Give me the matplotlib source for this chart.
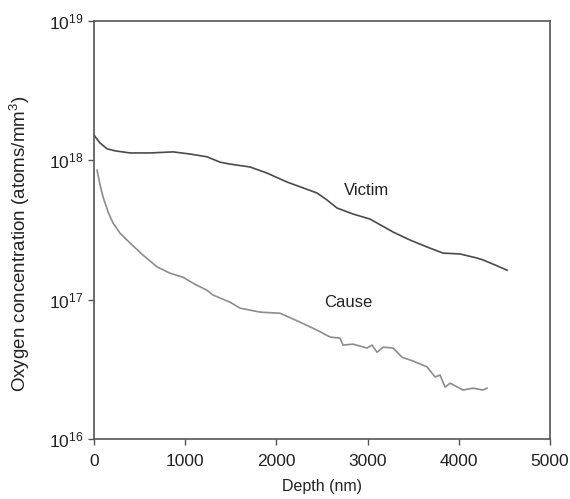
import numpy as np
import matplotlib
matplotlib.use("Agg")
from matplotlib import pyplot as plt
from matplotlib.ticker import LogLocator, NullLocator

plt.rcParams["font.family"] = ["Liberation Sans", "DejaVu Sans"]
plt.rcParams["mathtext.fontset"] = "custom"
plt.rcParams["mathtext.rm"] = "Liberation Sans"
plt.rcParams["mathtext.it"] = "Liberation Sans"
plt.rcParams["mathtext.default"] = "regular"

# depth profiles (nm, atoms/mm^3)
victim_depth = [0, 22, 66, 143, 230, 395, 614, 866, 1053, 1239, 1382, 1491,
                1711, 1897, 2116, 2445, 2555, 2664, 2840, 3026, 3279, 3465,
                3651, 3827, 4013, 4200, 4265, 4375, 4529]
victim_conc = [1.52e18, 1.45e18, 1.33e18, 1.21e18, 1.17e18, 1.13e18, 1.13e18,
               1.15e18, 1.11e18, 1.06e18, 9.7e17, 9.4e17, 8.96e17, 8.1e17,
               6.99e17, 5.83e17, 5.19e17, 4.55e17, 4.12e17, 3.79e17, 3.06e17,
               2.68e17, 2.39e17, 2.16e17, 2.13e17, 1.99e17, 1.93e17, 1.80e17,
               1.63e17]

cause_depth = [33, 66, 99, 154, 208, 285, 395, 537, 691, 833, 976, 1107, 1239,
               1305, 1491, 1601, 1820, 2039, 2259, 2445, 2588, 2697, 2730,
               2840, 2993, 3048, 3103, 3169, 3279, 3377, 3498, 3651, 3739,
               3794, 3849, 3904, 4046, 4156, 4265, 4309]
cause_conc = [8.5e17, 6.65e17, 5.46e17, 4.26e17, 3.55e17, 3.0e17, 2.55e17,
              2.09e17, 1.72e17, 1.55e17, 1.45e17, 1.29e17, 1.17e17, 1.08e17,
              9.6e16, 8.7e16, 8.15e16, 8.0e16, 6.9e16, 6.05e16, 5.4e16, 5.3e16,
              4.73e16, 4.8e16, 4.5e16, 4.73e16, 4.2e16, 4.57e16, 4.5e16,
              3.87e16, 3.63e16, 3.3e16, 2.79e16, 2.88e16, 2.36e16, 2.52e16,
              2.25e16, 2.32e16, 2.25e16, 2.32e16]

fig = plt.figure(figsize=(5.7, 4.99), dpi=100)
ax = fig.add_axes([0.165, 0.12, 0.80, 0.838])

ax.plot(victim_depth, victim_conc, color="#4a4a4a", lw=1.2)
ax.plot(cause_depth, cause_conc, color="#8c8c8c", lw=1.2)

ax.text(2990, 6.1e17, "Victim", ha="center", va="center", fontsize=12, color="#222222")
ax.text(2785, 9.6e16, "Cause", ha="center", va="center", fontsize=12, color="#222222")

ax.set_yscale("log")
ax.set_xlim(0, 5000)
ax.set_ylim(1e16, 1e19)
ax.set_xticks([0, 1000, 2000, 3000, 4000, 5000])
ax.yaxis.set_major_locator(LogLocator(base=10, numticks=10))
ax.yaxis.set_minor_locator(NullLocator())

for s in ax.spines.values():
    s.set_color("#555555")
    s.set_linewidth(1.2)
ax.tick_params(direction="out", length=4, width=1, colors="#555555",
               labelcolor="#222222", labelsize=12.5)
ax.tick_params(axis="x", pad=7)

ax.set_xlabel("Depth (nm)", fontsize=11.5, color="#222222", labelpad=7)
ax.set_ylabel("Oxygen concentration (atoms/mm$^3$)", fontsize=13.5,
              color="#222222")
ax.yaxis.set_label_coords(32 / 570, 1 - 244 / 499, transform=fig.transFigure)

fig.savefig("out.png", dpi=100)
